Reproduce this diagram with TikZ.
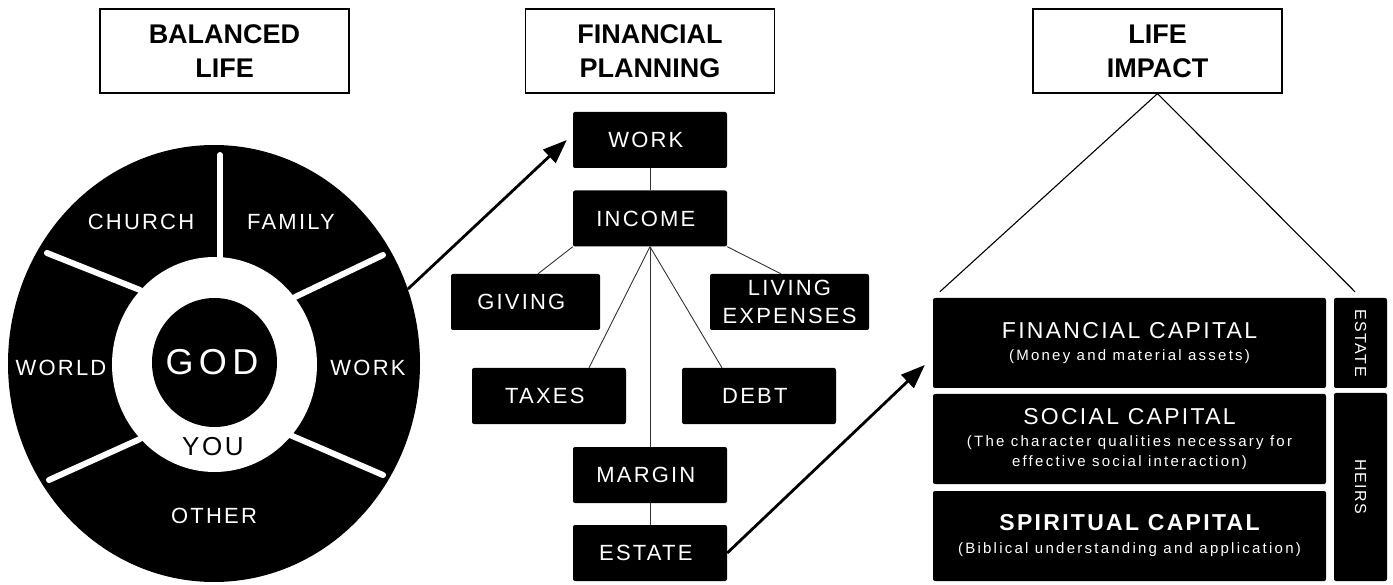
\documentclass[tikz,border=0pt]{standalone}
\usepackage{fontspec}
\setmainfont{Liberation Sans}
\newfontfamily\spaced[LetterSpace=10]{Liberation Sans}
\newfontfamily\wide[LetterSpace=15]{Liberation Sans}
\usetikzlibrary{arrows.meta,shapes.geometric}

\tikzset{
	titlebox/.style={draw, line width=1.2pt, minimum width=249pt, minimum height=84pt, align=center, font=\bfseries\fontsize{27}{34}\selectfont},
	stage/.style={fill, rounded corners=2pt, text=white, inner sep=0pt, minimum height=56pt, align=center, font=\spaced\fontsize{22}{28}\selectfont},
	capbox/.style={stage, minimum width=393pt, minimum height=90pt, font=\wide\fontsize{15}{20}\selectfont},
	side/.style={stage, rotate=-90, minimum height=53pt, font=\spaced\fontsize{16}{18}\selectfont},
	lbl/.style={text=white, inner sep=0pt, font=\spaced\fontsize{22}{24}\selectfont},
	spoke/.style={white, line width=6pt, line cap=round},
	link/.style={line width=0.9pt, black!80},
	bigarrow/.style={line width=2.8pt, -{Triangle[length=24pt,width=18pt]}},
}

\begin{document}
\begin{tikzpicture}[x=1pt, y=-1pt]
\useasboundingbox (0,0) rectangle (1393,585);
\node[titlebox] (balanced) at (224.5,51) {BALANCED\\LIFE};
\node[titlebox] (planning) at (650,51) {FINANCIAL\\PLANNING};
\node[titlebox] (impact) at (1157.5,51) {LIFE\\IMPACT};
%
\node[ellipse, fill, inner sep=0pt, minimum width=412pt, minimum height=437pt] (wheel) at (214,363.5) {};
\foreach \xa/\ya/\xb/\yb in {
	220/155/220/257
	,47/253/140/290
	,383/255/295/297
	,49/480/140/439
	,383/475/290/435
}{
	\draw[spoke] (\xa,\ya) -- (\xb,\yb);
}
\node[ellipse, fill=white, inner sep=0pt, minimum width=205pt, minimum height=215pt] (ring) at (214.5,364.5) {};
\node[ellipse, fill, inner sep=0pt, minimum width=125pt, minimum height=129pt] (god) at (214.5,362.5) {};
\node[lbl, font=\wide\fontsize{36}{40}\selectfont] (godtxt) at (212,362) {GOD};
\foreach \nm/\px/\py/\txt in {
	church/141/222/CHURCH
	,family/291/222/FAMILY
	,world/61/368/WORLD
	,job/368/368/WORK
	,other/214/516/OTHER
}{
	\node[lbl] (\nm) at (\px,\py) {\txt};
}
\node[lbl, text=black, font=\spaced\fontsize{26}{28}\selectfont] (you) at (213,447) {YOU};
%
\foreach \nm/\px/\py/\bw/\txt in {
	work/650/140/154/WORK
	,income/650/218.5/154/INCOME
	,giving/525.5/302/149/GIVING
	,taxes/549/396/154/TAXES
	,debt/759/396/154/DEBT
	,margin/650/475/154/MARGIN
	,estate/650/553/154/ESTATE
}{
	\node[stage, minimum width=\bw pt] (\nm) at (\px,\py) {\txt};
}
\node[stage, minimum width=159pt] (living) at (789.5,302) {LIVING\\EXPENSES};
\foreach \u/\v in {work/income, income.south/margin, margin/estate}{
	\draw[link] (\u) -- (\v);
}
\draw[link] (income.south west) -- ([xshift=12.5pt]giving.north);
\draw[link] (income.south east) -- ([xshift=-8.5pt]living.north);
\draw[link] (income.south) -- ([xshift=40pt]taxes.north);
\draw[link] (income.south) -- ([xshift=-37pt]debt.north);
%
\node[capbox] (fin) at (1129.5,343) {{\spaced\fontsize{23}{20}\selectfont FINANCIAL CAPITAL}\\[2.5pt](Money and material assets)};
\node[capbox] (soc) at (1129.5,439) {{\spaced\fontsize{23}{20}\selectfont SOCIAL CAPITAL}\\[2.5pt](The character qualities necessary for\\effective social interaction)};
\node[capbox] (spi) at (1129.5,536) {{\spaced\bfseries\fontsize{23}{20}\selectfont SPIRITUAL CAPITAL}\\[3pt](Biblical understanding and application)};
\node[side, minimum width=90pt] (estside) at (1360.5,343) {ESTATE};
\node[side, minimum width=188pt] (heirs) at (1360.5,487) {HEIRS};
\draw[line width=1.1pt] ([shift={(7,-6)}]fin.north west) -- (impact.south) -- ([shift={(-5.5,-6)}]estside.west);
%
\draw[bigarrow] (wheel.21) -- ([xshift=-6pt]work.west);
\draw[bigarrow] (estate.east) -- ([shift={(-8,22)}]fin.west);
\end{tikzpicture}
\end{document}
